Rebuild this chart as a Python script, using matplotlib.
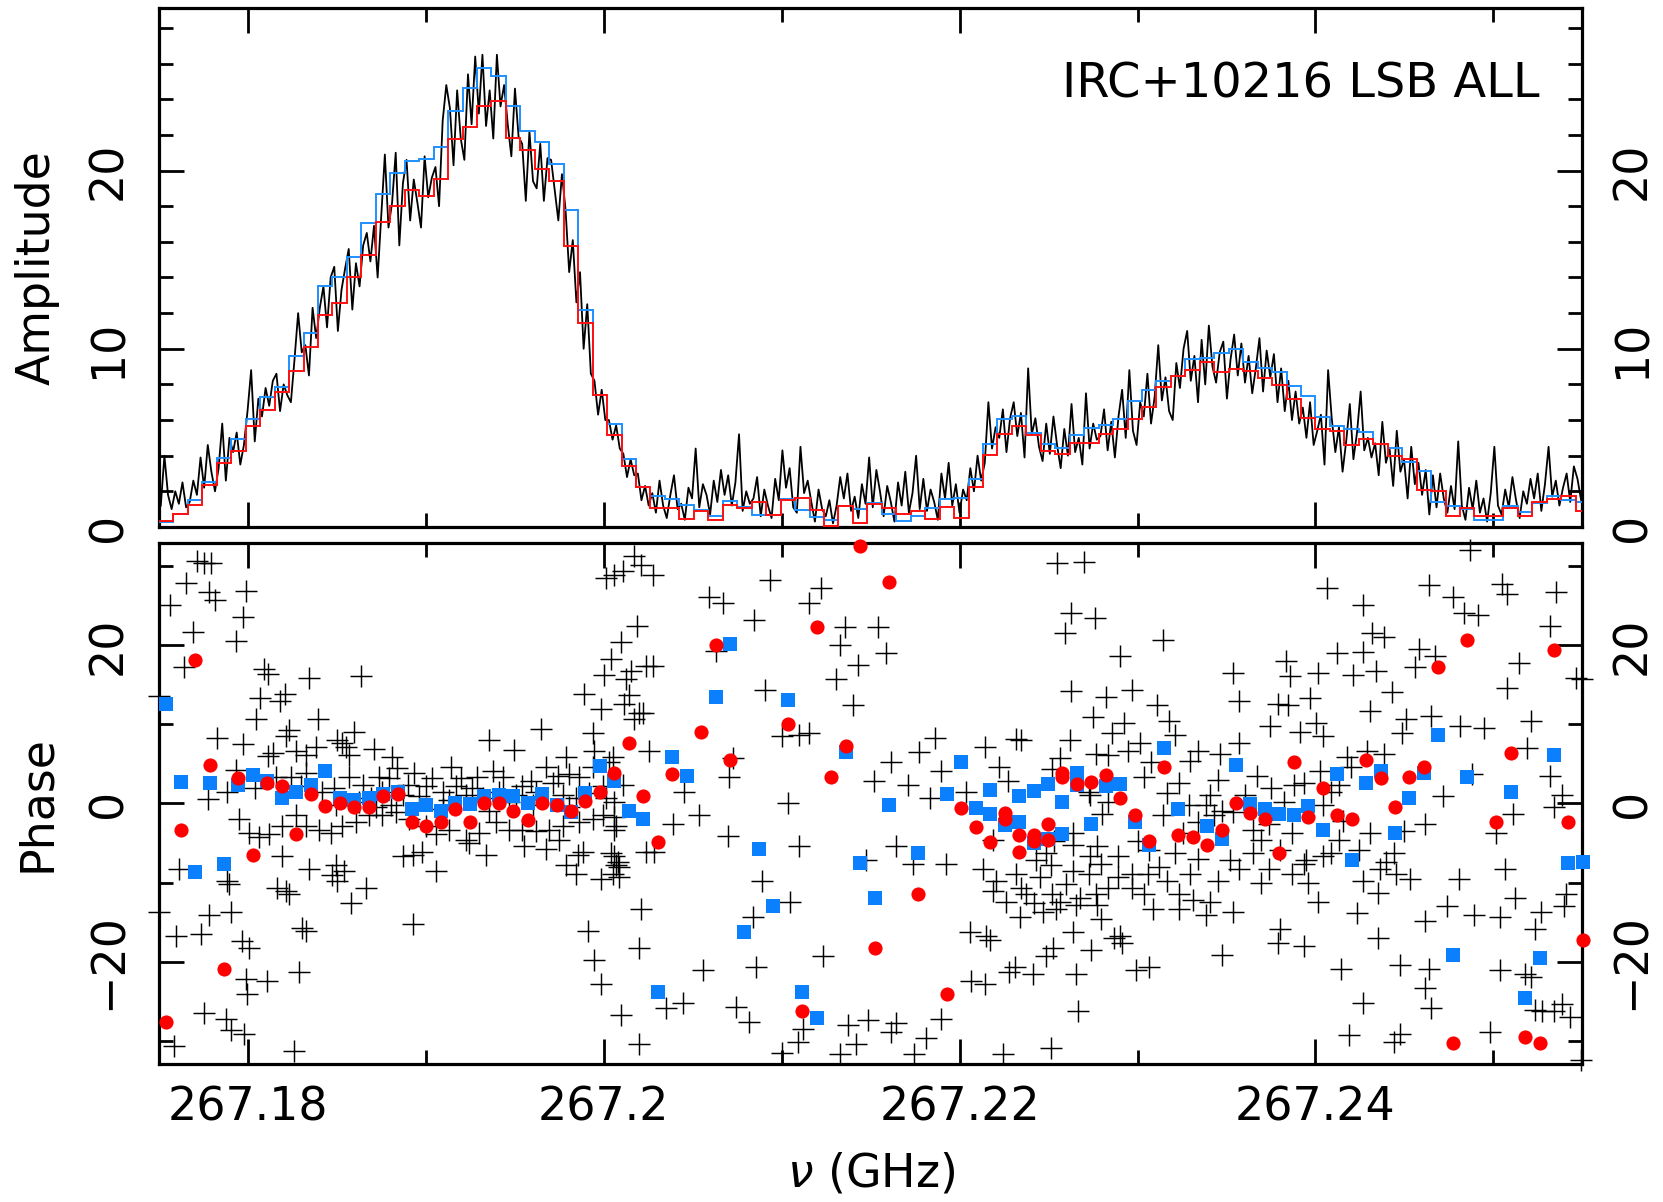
import numpy as np
import matplotlib
matplotlib.use("Agg")
import matplotlib.pyplot as plt
from matplotlib.ticker import MultipleLocator


# ─────────────────────────────────────────────
# DATA
# ─────────────────────────────────────────────
nu0 = 267.175            # GHz, left edge of first bin
bin_width = 0.0008125    # GHz, width of averaged bins
n_sub = 4                # raw channels per averaged bin

# averaged amplitudes (one value per bin)
amp_red = [0.35, 0.73, 1.21, 2.37, 3.58, 4.29, 5.69, 6.56, 7.56, 8.75,
           10.12, 11.9, 12.58, 14.0, 15.25, 17.13, 18.0, 18.9, 18.58, 19.5,
           21.75, 22.46, 23.63, 23.92, 21.85, 21.13, 20.1, 19.4, 15.77, 11.46,
           7.38, 5.17, 3.42, 2.27, 1.08, 1.08, 0.46, 0.88, 0.4, 1.21,
           1.04, 1.4, 0.65, 1.5, 1.62, 0.94, 0.08, 1.17, 0.21, 1.27,
           1.08, 0.75, 0.92, 0.46, 1.13, 0.5, 2.27, 4.06, 5.21, 5.69,
           5.15, 4.29, 4.12, 4.69, 4.73, 5.21, 5.5, 6.08, 6.75, 7.85,
           8.48, 8.81, 9.25, 8.67, 8.87, 8.77, 8.38, 7.94, 7.19, 6.12,
           5.5, 5.4, 4.58, 4.96, 4.63, 3.96, 3.83, 2.08, 2.04, 0.6,
           1.08, 0.6, 0.6, 1.08, 0.6, 1.4, 1.56, 1.75, 0.88]

amp_blue = [0.3, 0.73, 1.5, 2.52, 3.87, 4.96, 6.04, 7.29, 7.85, 9.62,
            10.88, 13.52, 14.04, 15.17, 17.04, 18.71, 19.88, 20.56, 20.65, 21.33,
            23.33, 24.63, 25.75, 25.31, 23.62, 22.23, 21.6, 20.35, 17.77, 12.17,
            7.38, 5.75, 3.81, 2.27, 1.71, 1.56, 1.23, 0.94, 0.6, 1.46,
            1.12, 0.69, 0.69, 1.56, 0.94, 0.56, 0.4, 1.17, 0.98, 1.37,
            0.75, 0.31, 0.6, 1.04, 1.56, 1.65, 2.71, 4.63, 6.08, 6.21,
            5.27, 4.63, 4.44, 5.15, 5.54, 5.73, 6.04, 7.08, 7.71, 8.19,
            8.48, 9.44, 9.48, 9.79, 10.0, 9.25, 8.9, 8.67, 7.9, 7.33,
            6.17, 5.69, 5.5, 5.35, 4.63, 4.44, 3.67, 3.13, 1.42, 1.17,
            0.98, 0.37, 0.37, 1.17, 0.85, 1.33, 1.75, 1.5, 1.42]

# raw amplitudes (n_sub channels per bin)
amp_raw = [
    1.2, 4.0, 1.8, 1.0, 2.0, 1.3, 2.5, 1.1,
    1.4, 2.6, 1.8, 3.9, 2.2, 4.6, 3.1, 2.0,
    3.3, 5.8, 2.6, 5.0, 4.2, 5.3, 3.5, 4.6,
    6.5, 8.8, 4.8, 7.2, 6.2, 7.8, 6.8, 8.2,
    8.6, 6.5, 8.0, 7.4, 7.0, 9.4, 12.0, 9.8,
    10.2, 8.5, 12.3, 10.6, 12.3, 13.5, 11.2, 14.0,
    14.6, 11.0, 13.3, 14.5, 15.6, 12.2, 14.8, 13.5,
    15.8, 16.5, 14.9, 16.9, 14.0, 17.4, 20.9, 16.8,
    18.2, 21.0, 15.8, 19.3, 20.6, 17.2, 19.5, 18.2,
    16.8, 20.8, 18.5, 19.6, 20.2, 18.0, 22.8, 24.8,
    23.5, 20.3, 24.5, 21.8, 20.6, 25.4, 22.6, 26.4,
    23.2, 26.5, 22.5, 24.5, 21.8, 26.5, 23.6, 24.8,
    22.6, 20.8, 24.6, 21.9, 21.5, 18.3, 22.2, 19.4,
    19.0, 21.5, 18.3, 20.7, 20.6, 18.9, 17.2, 19.8,
    17.8, 14.3, 16.1, 12.6, 14.3, 10.0, 12.5, 8.6,
    8.2, 6.3, 7.7, 6.0, 6.0, 4.9, 5.7, 4.4,
    4.1, 2.8, 3.8, 2.9, 3.0, 1.5, 2.3, 1.2,
    1.9, 0.8, 2.6, 1.2, 0.5, 1.8, 2.9, 1.0,
    1.3, 0.4, 2.2, 1.6, 4.4, 1.1, 2.4, 1.8,
    0.7, 2.6, 1.4, 3.2, 1.8, 2.9, 1.2, 2.5,
    5.2, 0.9, 2.0, 1.3, 1.6, 2.8, 0.6, 2.1,
    1.2, 0.5, 2.7, 1.5, 4.3, 2.2, 3.3, 1.1,
    0.8, 4.5, 1.9, 2.6, 1.4, 0.3, 2.1, 1.0,
    0.6, 1.5, 0.2, 1.2, 2.8, 1.6, 3.0, 0.9,
    1.7, 0.5, 2.4, 1.3, 3.9, 1.1, 3.2, 2.0,
    0.6, 2.3, 1.4, 0.3, 2.5, 1.2, 3.1, 0.8,
    1.9, 4.0, 1.0, 2.7, 0.9, 2.1, 1.4, 0.4,
    3.0, 1.6, 3.6, 1.2, 2.4, 0.8, 2.1, 1.5,
    3.3, 2.0, 4.0, 2.6, 3.6, 7.0, 4.4, 5.6,
    5.0, 6.6, 4.2, 6.1, 7.0, 5.1, 6.4, 3.9,
    8.9, 5.2, 6.1, 4.5, 3.7, 5.8, 4.1, 6.2,
    4.6, 3.3, 5.5, 4.0, 6.9, 4.2, 5.0, 3.5,
    7.5, 4.4, 5.8, 4.9, 5.1, 6.6, 4.3, 5.9,
    3.9, 6.2, 7.7, 5.0, 8.8, 5.4, 4.6, 7.0,
    6.2, 8.6, 5.8, 7.3, 10.2, 7.1, 8.4, 6.5,
    6.0, 9.2, 7.8, 10.0, 11.0, 8.2, 9.6, 7.0,
    10.5, 8.0, 11.3, 9.0, 8.1, 9.8, 10.4, 7.2,
    9.4, 10.8, 8.5, 10.3, 8.1, 9.6, 7.5, 8.9,
    10.6, 7.6, 9.9, 8.4, 9.7, 7.0, 8.9, 6.5,
    8.2, 6.0, 7.6, 5.8, 6.7, 5.0, 7.0, 4.6,
    5.4, 6.3, 3.5, 8.8, 6.1, 4.2, 5.6, 3.1,
    4.8, 6.9, 3.8, 5.3, 7.6, 4.3, 5.0, 3.9,
    4.7, 2.9, 5.9, 3.6, 4.4, 2.3, 5.4, 3.1,
    3.8, 1.6, 4.5, 2.4, 3.6, 1.8, 3.2, 0.7,
    2.9, 1.1, 3.0, 1.6, 0.8, 2.3, 1.0, 4.8,
    1.2, 0.4, 2.2, 1.0, 2.6, 0.8, 1.6, 0.3,
    1.9, 4.5, 1.2, 0.7, 2.1, 1.1, 2.8, 1.5,
    0.5, 2.0, 1.3, 2.7, 1.6, 3.0, 0.9, 2.4,
    4.5, 1.7, 2.6, 1.2, 2.2, 3.0, 1.4, 3.4,
    2.7, 1.5, 3.3, 1.9,
]

# averaged phases: (bin index, phase)
phase_red = [
    (0, -27.6), (1, -3.4), (2, 18.1), (3, 4.9), (4, -20.9), (5, 3.2), (6, -6.5),
    (7, 2.6), (8, 2.2), (9, -3.9), (10, 1.2), (11, -0.3), (12, 0.1), (13, -0.5),
    (14, -0.5), (15, 0.9), (16, 1.2), (17, -2.4), (18, -2.8), (19, -2.3),
    (20, -0.65), (21, -2.4), (22, 0.1), (23, 0.1), (24, -1.0), (25, -2.1),
    (26, 0.1), (27, -0.2), (28, -1.0), (29, 0.35), (30, 1.5), (31, 3.9),
    (32, 7.6), (33, 1.0), (34, -4.9), (35, 3.7), (37, 9.1), (38, 20.0),
    (39, 5.5), (43, 10.1), (44, -26.3), (45, 22.3), (46, 3.3), (47, 7.3),
    (48, 32.6), (49, -18.3), (50, 28.0), (52, -11.4), (54, -24.1), (55, -0.6),
    (56, -3.0), (57, -4.9), (58, -1.2), (58, -2.0), (59, -4.0), (59, -6.1),
    (60, -4.0), (60, -4.8), (61, -2.6), (61, -4.6), (62, 3.9), (62, 3.3),
    (63, 2.5), (64, 2.7), (65, 3.6), (66, 0.65), (67, -1.5), (68, -4.8),
    (69, 4.65), (70, -4.0), (71, -4.2), (72, -5.3), (73, -3.3), (74, 0.0),
    (75, -1.2), (76, -2.0), (77, -6.2), (78, 5.2), (79, -1.7), (80, 2.0),
    (81, -1.5), (82, -2.0), (83, 5.5), (84, 3.2), (85, -0.5), (86, 3.3),
    (87, 4.65), (88, 17.2), (89, -30.3), (90, 20.7), (92, -2.3), (93, 6.4),
    (94, -29.5), (95, -30.3), (96, 19.4), (97, -2.3), (98, -17.2),
]

phase_blue = [
    (0, 12.6), (1, 2.7), (2, -8.7), (3, 2.6), (4, -7.7), (5, 2.3), (6, 3.6),
    (7, 2.8), (8, 0.65), (9, 1.4), (10, 2.4), (11, 4.1), (12, 0.7), (13, 0.4),
    (14, 0.7), (15, 1.2), (16, 1.5), (17, -0.65), (18, -0.2), (19, -1.0),
    (20, 0.1), (21, -0.1), (22, 1.0), (23, 1.1), (24, 0.9), (25, 0.0),
    (26, 1.2), (27, -0.2), (28, -1.1), (29, 1.3), (30, 4.8), (31, 2.8),
    (32, -0.9), (33, -1.9), (34, -23.9), (35, 5.9), (36, 3.5), (38, 13.5),
    (39, 20.2), (40, -16.2), (41, -5.8), (42, -13.0), (43, 13.1), (44, -23.8),
    (45, -27.1), (47, 6.5), (48, -7.5), (49, -12.0), (50, -0.2), (52, -6.3),
    (54, 1.2), (55, 5.3), (56, -0.6), (57, 1.7), (57, -1.3), (58, -2.7),
    (59, -2.3), (59, 1.0), (60, -5.0), (60, 1.6), (61, -4.5), (61, 2.5),
    (62, 0.2), (62, -3.8), (63, 3.9), (63, 2.4), (64, -2.6), (65, 2.2),
    (66, 2.5), (67, -2.4), (68, -5.3), (69, 7.0), (70, -0.65), (72, -2.9),
    (73, -4.5), (74, 4.9), (75, -0.1), (76, -0.7), (77, -1.3), (78, -1.4),
    (79, -0.35), (80, -3.3), (81, 3.7), (82, -7.1), (83, 2.6), (84, 4.1),
    (85, -3.7), (86, 0.65), (87, 3.8), (88, 8.6), (89, -19.1), (90, 3.3),
    (93, 1.4), (94, -24.6), (95, -19.6), (96, 6.1), (97, -7.5), (98, -7.4),
]

# raw channel phases: (MHz above nu0, phase)
plus_points = [
    # 0 - 28 MHz
    (2.16, 30.7), (2.53, 30.4), (2.91, 30.4), (1.54, 27.9), (2.81, 26.7), (3.15, 25.7),
    (4.91, 26.9), (0.6, 25.1), (4.74, 23.6), (1.91, 21.7), (4.31, 20.6), (1.41, 17.3),
    (5.91, 17.0), (6.15, 16.4), (8.44, 15.9), (11.38, 16.1), (0.0, 13.6), (5.66, 13.3),
    (7.09, 13.8), (6.79, 13.0), (5.47, 10.7), (8.96, 10.7), (3.28, 8.3), (4.72, 7.5),
    (6.15, 6.0), (6.41, 6.4), (7.31, 9.3), (7.12, 8.5), (7.69, 6.7), (8.25, 6.1),
    (8.81, 7.1), (10.03, 8.0), (10.27, 7.6), (10.5, 7.2), (10.97, 9.1), (10.69, 6.1),
    (12.09, 6.9), (13.12, 5.9), (18.56, 8.0), (19.97, 6.8), (21.47, 9.4), (22.87, 5.9),
    (24.37, 8.9), (24.47, 6.7), (25.5, 5.9), (23.9, 13.9), (24.84, 11.9), (26.15, 12.6),
    (26.43, 13.7), (27.0, 11.5), (26.72, 10.7), (26.25, 15.8), (27.37, 17.4), (26.72, 31.3),
    (27.09, 30.2), (26.06, 29.4), (25.59, 28.9), (25.12, 28.5), (26.85, 22.4), (25.97, 20.4),
    (25.4, 18.3), (25.03, 16.3),
    (4.35, 4.2), (2.77, 0.6), (3.84, 1.4), (5.4, 2.0), (7.41, 3.3), (8.29, 3.9),
    (9.19, 1.5), (9.84, 1.9), (12.37, 3.3), (12.94, 3.2), (13.35, 4.5), (14.34, 3.9),
    (15.34, 3.2), (16.4, 4.6), (16.97, 3.2), (17.9, 3.3), (18.75, 4.1), (19.31, 3.3),
    (20.9, 2.8), (21.75, 4.6), (22.4, 3.5), (23.06, 3.7), (23.62, 3.3), (24.37, 4.6),
    (25.31, 5.2), (25.12, 0.65), (25.59, 0.2), (11.44, 2.4), (11.9, 0.65), (12.56, 1.5),
    (13.69, 1.1), (14.62, 0.9), (15.94, 1.5), (17.25, 1.1), (18.19, 0.65), (20.06, 1.1),
    (21.18, 1.5), (22.68, 1.1), (23.43, 0.65), (26.06, 2.4), (6.56, 3.3), (7.97, 2.2),
    (10.69, 3.3), (11.25, 0.2), (13.03, -0.2), (13.97, 2.4), (15.0, 2.2), (16.69, 2.2),
    (17.62, 2.0), (19.12, 1.5), (20.43, 2.2), (22.12, 2.6), (24.18, 1.3), (24.93, 2.2),
    (9.94, -0.2), (12.19, -0.4), (15.94, -0.65), (18.56, -0.9), (21.0, -0.2), (23.06, -0.4),
    (16.31, 0.4), (19.69, 0.2),
    (4.5, -2.0), (5.06, -3.7), (5.62, -4.3), (6.19, -3.9), (6.94, -2.8), (7.69, -1.5),
    (8.25, -2.8), (9.0, -3.3), (9.66, -3.7), (10.31, -2.8), (11.06, -2.4), (11.81, -1.5),
    (12.56, -1.5), (13.31, -1.1), (14.06, -2.0), (15.0, -2.8), (15.56, -3.9), (16.31, -3.3),
    (17.25, -4.6), (18.0, -3.7), (18.94, -2.4), (19.69, -3.3), (20.43, -3.3), (21.18, -3.5),
    (21.93, -3.3), (22.68, -2.8), (23.62, -2.4), (24.37, -2.0), (24.93, -1.5), (25.68, -2.8),
    (14.81, -6.1), (15.56, -8.5), (14.25, -6.5), (17.44, -5.0), (18.37, -6.5), (20.53, -5.4),
    (21.75, -5.7), (22.5, -4.6), (23.53, -6.5), (22.87, -7.8), (23.43, -8.9), (25.68, -7.8),
    (25.5, -8.9), (24.84, -9.6), (23.81, -6.1), (13.69, -6.7), (3.84, -9.8), (1.12, -8.3),
    (6.94, -6.7), (8.44, -8.3), (9.94, -7.8), (10.4, -8.5), (9.75, -9.1), (10.03, -9.8),
    (11.62, -10.7), (10.78, -12.6), (6.66, -10.7), (7.12, -11.1), (7.31, -11.5), (3.94, -10.2),
    (0.0, -13.7), (2.81, -14.1), (4.03, -13.7), (0.94, -16.7), (2.34, -16.5), (4.69, -17.4),
    (5.06, -18.3), (8.06, -15.7), (8.25, -16.1), (7.87, -21.3), (4.87, -22.2), (6.09, -22.4),
    (4.97, -24.1), (2.53, -26.5), (3.75, -27.2), (4.03, -28.7), (4.78, -29.1), (0.84, -30.7),
    (7.59, -31.3), (14.25, -15.2), (24.09, -16.1), (24.47, -19.8), (24.84, -22.8), (25.97, -26.7),
    (27.0, -30.4), (27.0, -18.3), (27.09, -13.3), (27.37, -6.1), (25.4, -6.3), (25.78, -7.4),
    # 25 - 53 MHz
    (27.75, 28.9), (34.36, 28.3), (37.21, 27.3), (30.93, 26.1), (31.68, 25.4), (36.51, 25.3),
    (33.46, 23.2), (38.53, 22.3), (40.4, 22.3), (31.31, 19.3), (38.25, 20.1), (40.87, 19.0),
    (39.28, 17.5), (27.75, 17.4), (26.53, 16.7), (38.06, 15.7), (34.08, 14.3), (27.19, 11.5),
    (39.0, 12.5), (35.0, 8.5), (35.96, 8.6), (36.56, 8.9), (27.56, 6.6), (32.25, 5.7),
    (32.06, 3.3), (43.62, 8.3), (42.74, 6.5), (46.4, 7.1), (48.18, 8.1), (48.46, 8.0),
    (51.18, 8.0), (50.62, 5.7), (52.68, 6.3), (41.15, 5.2), (40.21, 2.9), (42.09, 2.4),
    (43.31, 0.7), (43.96, 4.1), (45.38, 1.5), (47.24, 4.6), (47.71, 2.9), (52.31, 1.1),
    (29.53, 1.4), (30.37, -1.4), (28.91, -2.6), (25.59, -1.7), (25.59, -3.3), (27.84, -6.1),
    (25.87, -8.0), (32.0, -4.1), (35.34, 0.0), (36.0, -5.4), (39.75, -7.2), (41.4, -5.4),
    (42.37, -7.6), (44.24, -7.7), (46.87, -4.6), (46.3, -8.3), (47.06, -9.8), (48.46, -10.7),
    (49.2, -12.6), (48.18, -8.9), (50.62, -12.4), (51.56, -12.8), (52.68, -11.5), (52.31, -6.7),
    (51.37, -5.2), (49.87, -6.3), (49.31, -7.2), (50.15, -7.8), (49.68, -13.7), (48.37, -14.3),
    (45.56, -16.3), (46.68, -17.2), (46.5, -16.7), (50.24, -18.3), (49.87, -19.3), (52.4, -18.5),
    (48.09, -20.7), (47.8, -21.3), (49.12, -21.5), (51.56, -21.5), (45.65, -22.4), (46.4, -22.8),
    (51.65, -26.3), (50.15, -30.9), (47.43, -31.7), (43.96, -27.2), (43.1, -29.6), (42.45, -31.7),
    (41.43, -27.8), (41.15, -28.9), (39.84, -27.4), (39.18, -30.4), (38.71, -28.0), (38.25, -31.7),
    (35.9, -30.2), (35.02, -31.5), (36.18, -28.5), (33.18, -27.6), (32.43, -25.7), (33.56, -20.7),
    (30.6, -21.0), (29.43, -25.2), (28.5, -25.9), (37.34, -19.3), (33.9, -9.8), (33.37, -14.3),
    (35.49, -12.4), (25.59, -6.7), (25.87, -9.3), (46.87, -11.1), (47.62, -12.4), (48.74, -11.5),
    (49.5, -9.3), (51.0, -10.2), (51.74, -12.0), (50.43, -13.3),
    # 50 - 80 MHz
    (50.5, 30.4), (52.0, 30.6), (51.27, 24.1), (52.59, 23.5), (50.94, 21.5), (56.44, 20.7),
    (54.02, 18.6), (54.68, 14.3), (51.27, 14.2), (53.25, 13.5), (52.48, 10.9), (56.11, 12.4),
    (54.24, 10.2), (53.58, 8.9), (56.77, 10.4), (57.1, 8.7), (55.12, 7.6), (53.36, 6.1),
    (55.78, 5.3), (57.97, 5.4), (59.62, 6.3), (60.72, 7.6), (58.37, 6.7), (50.17, 4.3),
    (52.26, 1.5), (56.66, 1.3), (59.51, 3.0), (61.71, 3.5), (62.48, 2.0), (63.8, 2.4),
    (65.89, 1.5), (66.77, 5.9), (67.87, 6.7), (65.45, 8.5), (65.01, 10.2), (64.13, 9.1),
    (63.43, 12.4), (62.92, 12.6), (62.44, 9.8), (64.68, 13.3), (60.72, 13.0), (60.39, 16.5),
    (63.36, 18.0), (63.58, 16.1), (65.12, 16.5), (66.22, 19.0), (67.1, 16.3), (68.42, 16.7),
    (67.65, 19.1), (67.65, 25.1), (65.67, 27.3), (68.2, 21.5), (68.86, 21.0), (70.84, 19.6),
    (70.62, 17.2), (69.3, 14.1), (68.09, 11.7), (70.07, 10.7), (69.85, 8.9), (71.5, 11.1),
    (73.15, 9.8), (74.47, 9.6), (77.1, 10.4), (76.88, 7.0), (78.2, 3.5), (78.42, -0.4),
    (78.86, 1.1), (76.44, 17.8), (75.79, 14.6), (78.2, 22.4), (78.53, 26.8), (75.79, 26.5),
    (75.46, 27.7), (73.7, 32.0), (72.71, 26.1), (73.37, 24.1), (74.14, 23.8), (71.39, 27.6),
    (71.72, 18.7), (79.96, 15.7), (79.63, 15.9), (72.16, 0.9), (73.81, 3.7), (76.11, -1.3),
    (75.13, -3.7), (71.17, -2.6), (69.96, -3.5), (75.68, -8.3), (73.04, -9.6), (76.22, -12.0),
    (72.38, -13.0), (73.92, -14.1), (75.35, -14.3), (77.32, -15.9), (77.66, -13.7), (79.08, -11.5),
    (78.97, -13.0), (71.17, -14.8), (68.53, -17.0), (69.74, -20.4), (71.39, -20.9), (71.17, -23.3),
    (66.44, -20.9), (67.32, -13.9), (65.12, -12.4), (64.57, -10.0), (64.35, -7.6), (65.89, -6.3),
    (67.43, -5.9), (68.97, -7.4), (68.53, -11.3), (69.52, -8.9), (70.29, -9.6), (67.65, -9.8),
    (61.93, -10.0), (63.03, -15.9), (62.92, -17.6), (64.35, -18.0), (59.73, -19.1), (55.67, -20.7),
    (54.9, -21.1), (54.13, -17.6), (53.69, -17.0), (52.92, -14.6), (50.17, -11.5), (54.68, -10.7),
    (55.56, -8.9), (55.89, -13.3), (57.32, -11.5), (58.09, -12.2), (59.07, -12.4), (60.39, -13.7),
    (56.66, -9.8), (53.91, -9.3), (52.92, -7.6), (50.28, -4.8), (53.03, -1.3), (55.01, -4.8),
    (56.44, -1.5), (57.54, -3.7), (58.42, -2.4), (58.86, -0.2), (59.29, -1.5), (60.39, -1.1),
    (61.49, -3.3), (61.93, -4.6), (62.37, -2.6), (63.69, -3.7), (64.46, -7.2), (60.17, -7.2),
    (60.72, -8.3), (58.42, -7.0), (57.1, -6.3), (55.67, -5.9), (53.91, -6.7), (51.38, -8.5),
    (63.03, -5.9), (61.49, -6.3), (65.45, -0.2), (66.55, -2.2), (68.64, -8.3), (78.86, -25.4),
    (79.3, -27.0), (77.76, -26.3), (77.32, -26.1), (77.1, -22.0), (76.77, -21.5), (75.35, -21.1),
    (74.8, -28.9), (78.42, -26.3), (71.5, -25.9), (67.65, -25.2), (66.88, -29.3), (69.74, -29.1),
    (69.41, -30.2), (79.92, -32.4),
    (51.38, -3.7), (52.7, -5.4), (53.36, 0.2), (54.46, 6.7), (55.34, 3.3), (57.32, 2.6),
    (57.87, -0.2), (59.07, 1.1), (59.73, -0.9), (61.05, 1.1), (63.25, 0.2), (64.35, 2.6),
    (65.23, 4.1), (66.33, 2.4), (66.99, 4.6), (68.86, 6.3), (69.41, -6.3), (68.09, -3.7),
    (66.33, -4.6), (65.45, -6.7), (63.69, -8.9), (62.37, -8.3), (59.51, -9.8), (57.97, -8.9),
    (56.22, -8.0), (54.68, -8.9), (53.36, -10.7), (52.26, -8.9), (55.34, -11.5), (57.32, -13.3),
    (58.86, -14.1), (52.7, -12.8), (54.02, -16.7), (51.38, -16.3),
]

x_major = [267.18, 267.20, 267.22, 267.24]
x_major_labels = ["267.18", "267.2", "267.22", "267.24"]
x_minor = [267.19, 267.21, 267.23, 267.25]


# ─────────────────────────────────────────────
# FIGURE
# ─────────────────────────────────────────────
plt.rcParams["font.family"] = ["DejaVu Sans"]
plt.rcParams["mathtext.fontset"] = "dejavusans"

fig = plt.figure(figsize=(16.63, 12.02), dpi=100)
ax1 = fig.add_axes([0.0956, 0.5616, 0.8559, 0.4314])
ax2 = fig.add_axes([0.0956, 0.1151, 0.8559, 0.4332])

# amplitude panel
edges = nu0 + bin_width * np.arange(len(amp_red) + 1)
raw_centers = nu0 + bin_width / n_sub * (np.arange(len(amp_raw)) + 0.5)
ax1.plot(raw_centers, amp_raw, color="black", lw=1.3, zorder=2)
ax1.stairs(amp_blue, edges, baseline=None, color="#1e8fff", lw=1.4, zorder=3)
ax1.stairs(amp_red, edges, baseline=None, color="#ff1010", lw=1.4, zorder=4)
ax1.set_ylim(0, 29.1)
ax1.yaxis.set_major_locator(MultipleLocator(10))
ax1.yaxis.set_minor_locator(MultipleLocator(2))
ax1.text(0.970, 0.828, "IRC+10216 LSB ALL", transform=ax1.transAxes,
         ha="right", va="baseline", fontsize=34.5)
ax1.set_ylabel("Amplitude", fontsize=33, va="center")
ax1.yaxis.set_label_coords(-0.0857, 0.5)

# phase panel
px = [nu0 + m * 1e-3 for m, _ in plus_points]
py = [p for _, p in plus_points]
ax2.plot(px, py, "+", color="black", ms=16, mew=1.05, clip_on=False, zorder=2)

bx = [nu0 + (b + 0.5) * bin_width for b, _ in phase_blue]
by = [p for _, p in phase_blue]
ax2.plot(bx, by, "s", color="#0a80ff", ms=9.6, mew=0, clip_on=False, zorder=3)

rx = [nu0 + (b + 0.5) * bin_width for b, _ in phase_red]
ry = [p for _, p in phase_red]
ax2.plot(rx, ry, "o", color="#ff0000", ms=10.2, mew=0, clip_on=False, zorder=4)

ax2.set_ylim(-32.9, 32.95)
ax2.set_yticks([-20, 0, 20])
ax2.set_yticks([-30, -10, 10, 30], minor=True)
ax2.set_ylabel("Phase", fontsize=33, va="center")
ax2.yaxis.set_label_coords(-0.0857, 0.5)
ax2.set_xlabel(r"$\nu$ (GHz)", fontsize=33, va="center")
ax2.xaxis.set_label_coords(0.5, -0.212)

# shared axis styling
for ax in (ax1, ax2):
    ax.set_xlim(267.175, 267.255)
    ax.set_xticks(x_major, labels=x_major_labels)
    ax.set_xticks(x_minor, minor=True)
    for s in ax.spines.values():
        s.set_linewidth(2.3)
    ax.tick_params(which="both", direction="in", top=True, right=True,
                   labelright=True, width=2.0)
    ax.tick_params(which="major", length=18)
    ax.tick_params(which="minor", length=10)
    ax.tick_params(axis="y", labelrotation=90, labelsize=33, pad=20)
    ax.tick_params(axis="x", labelsize=33, pad=15.5)
    for t in ax.yaxis.get_major_ticks():
        t.label1.set_va("center")
        t.label2.set_va("center")

ax1.tick_params(axis="x", labelbottom=False)

fig.savefig("out.png", dpi=100)
